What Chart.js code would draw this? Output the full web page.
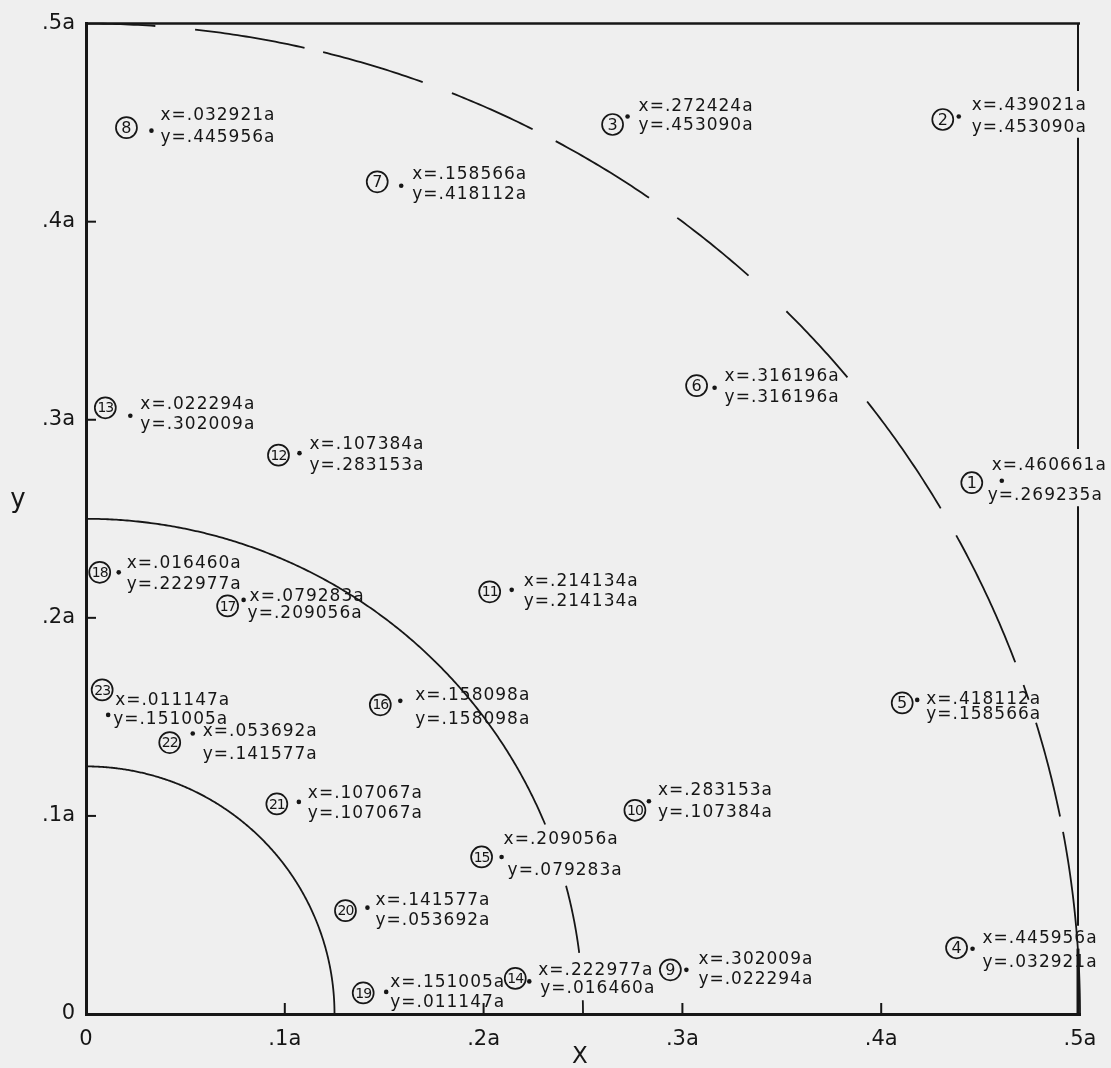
<!DOCTYPE html>
<html><head><meta charset="utf-8">
<script src="https://cdn.jsdelivr.net/npm/chart.js@4.4.0/dist/chart.umd.min.js"></script>
<style>html,body{margin:0;padding:0;background:#efefef;}canvas{display:block;}</style>
</head><body>
<canvas id="c" width="1111" height="1068"></canvas>
<script>
// ---- data ----
const pointIds = [1,2,3,4,5,6,7,8,9,10,11,12,13,14,15,16,17,18,19,20,21,22,23];
const xValues = [0.460661,0.439021,0.272424,0.445956,0.418112,0.316196,0.158566,0.032921,0.302009,0.283153,0.214134,0.107384,0.022294,0.222977,0.209056,0.158098,0.079283,0.016460,0.151005,0.141577,0.107067,0.053692,0.011147];
const yValues = [0.269235,0.453090,0.453090,0.032921,0.158566,0.316196,0.418112,0.445956,0.022294,0.107384,0.214134,0.283153,0.302009,0.016460,0.079283,0.158098,0.209056,0.222977,0.011147,0.053692,0.107067,0.141577,0.151005];
const tickValues = [0,0.1,0.2,0.3,0.4,0.5];
const tickLabels = ['0','.1a','.2a','.3a','.4a','.5a'];
const circleRadii = [0.125,0.25,0.5];
const axisTitles = {x:'X', y:'y'};

// ---- layout / style (pixels, degrees) ----
const ink = '#161616';
// arcs drawn as pieces between angles (deg), one list per radius
const arcPieces = [
  [[90,0]],
  [[90,22.5],[15,7.1],[1.6,0]],
  [[90,86],[83.7,77.3],[76.2,70.2],[68.4,63.3],[61.8,55.5],[53.5,48.2],[45.2,40.0],[38.2,30.7],[28.9,20.8],[19.4,18.5],[17.1,11.5],[10.6,0]]
];
// right frame pieces in y data units
const rightFrame = [[0,0.033,3],[0.0445,0.2563,2],[0.2853,0.4424,2],[0.466,0.5,2]];
// label offsets from the dot: circle dx,dy ; x-text dx,dy ; y-text dx,dy
const labelLayout = [
  [-30,2,-10,-15,-14,15],
  [-16,3,13,-11,13,11],
  [-15,8,11,-10,11,9],
  [-16,-1,10,-10,10,14],
  [-15,3,9,0,9,15],
  [-18,-2,10,-11,10,10],
  [-24,-4,11,-11,11,9],
  [-25,-3,9,-15,9,7],
  [-16,0,12,-10,12,10],
  [-14,9,9,-11,9,11],
  [-22,2,12,-8,12,12],
  [-21,2,10,-9,10,12],
  [-25,-8,10,-11,10,9],
  [-14,-3,9,-11,11,7],
  [-20,0,2,-17,6,14],
  [-20,4,15,-5,15,19],
  [-16,6,6,-3,4,14],
  [-19,0,8,-9,8,12],
  [-23,1,4,-9,4,11],
  [-22,3,8,-7,8,13],
  [-22,2,9,-8,9,12],
  [-23,9,10,-2,10,21],
  [-6,-25,7,-14,5,5]
];

const fmt = v => v.toFixed(6).replace(/^0/, '');

const framePlugin = {
  id: 'frame',
  beforeDatasetsDraw(chart) {
    const {ctx, chartArea: ca, scales: {x, y}} = chart;
    ctx.save();
    ctx.strokeStyle = ink;
    ctx.lineCap = 'butt';
    // top border
    ctx.lineWidth = 2.5;
    ctx.beginPath(); ctx.moveTo(ca.left, ca.top); ctx.lineTo(ca.right, ca.top); ctx.stroke();
    // right border pieces
    rightFrame.forEach(([a, b, w]) => {
      ctx.lineWidth = w;
      ctx.beginPath();
      ctx.moveTo(x.getPixelForValue(0.5) - 2, y.getPixelForValue(a));
      ctx.lineTo(x.getPixelForValue(0.5) - 2, y.getPixelForValue(b));
      ctx.stroke();
    });
    // inward tick marks
    ctx.lineWidth = 2;
    tickValues.slice(1, -1).forEach(v => {
      const px = x.getPixelForValue(v);
      ctx.beginPath(); ctx.moveTo(px, ca.bottom); ctx.lineTo(px, ca.bottom - 11); ctx.stroke();
      const py = y.getPixelForValue(v);
      ctx.beginPath(); ctx.moveTo(ca.left, py); ctx.lineTo(ca.left + 10, py); ctx.stroke();
    });
    // quarter circles
    ctx.lineWidth = 1.8;
    circleRadii.forEach((r, k) => {
      arcPieces[k].forEach(([a0, a1]) => {
        ctx.beginPath();
        const n = Math.max(4, Math.ceil(Math.abs(a0 - a1) * 4));
        for (let s = 0; s <= n; s++) {
          const t = (a0 + (a1 - a0) * s / n) * Math.PI / 180;
          const px = x.getPixelForValue(r * Math.cos(t));
          const py = y.getPixelForValue(r * Math.sin(t));
          if (s === 0) ctx.moveTo(px, py); else ctx.lineTo(px, py);
        }
        ctx.stroke();
      });
    });
    ctx.restore();
  },
  afterDraw(chart) {
    const {ctx, chartArea: ca} = chart;
    ctx.save();
    ctx.fillStyle = ink;
    ctx.textAlign = 'center';
    ctx.textBaseline = 'middle';
    ctx.font = '23px "DejaVu Sans"';
    ctx.fillText(axisTitles.x, (ca.left + ca.right) / 2 - 3, 1057);
    ctx.font = '26px "DejaVu Sans"';
    ctx.fillText(axisTitles.y, 18, 500);
    ctx.restore();
  }
};

const labelPlugin = {
  id: 'pointLabels',
  afterDatasetsDraw(chart) {
    const ctx = chart.ctx;
    const meta = chart.getDatasetMeta(0);
    ctx.save();
    ctx.fillStyle = ink; ctx.strokeStyle = ink;
    meta.data.forEach((pt, i) => {
      const L = labelLayout[i];
      const cx = pt.x + L[0], cy = pt.y + L[1];
      ctx.lineWidth = 1.7;
      ctx.beginPath(); ctx.arc(cx, cy, 10.5, 0, Math.PI * 2); ctx.stroke();
      const id = pointIds[i];
      ctx.textAlign = 'center'; ctx.textBaseline = 'middle';
      if ('letterSpacing' in ctx) ctx.letterSpacing = id > 9 ? '-1px' : '0px';
      ctx.font = (id > 9 ? '14px' : '16px') + ' "DejaVu Sans"';
      ctx.fillText(String(id), cx, cy + 1);
      ctx.textAlign = 'left';
      ctx.font = '17px "DejaVu Sans"';
      if ('letterSpacing' in ctx) ctx.letterSpacing = '1px';
      ctx.fillText('x=' + fmt(xValues[i]) + 'a', pt.x + L[2], pt.y + L[3]);
      ctx.fillText('y=' + fmt(yValues[i]) + 'a', pt.x + L[4], pt.y + L[5]);
    });
    ctx.restore();
  }
};

const tickOpts = (pad) => ({
  padding: pad, color: ink, autoSkip: false, maxRotation: 0,
  font: {family: 'DejaVu Sans', size: 21},
  callback: (v, i) => tickLabels[i]
});

new Chart(document.getElementById('c'), {
  type: 'scatter',
  data: {
    datasets: [{
      data: xValues.map((xv, i) => ({x: xv, y: yValues[i]})),
      pointRadius: 2.3, pointHoverRadius: 2.3,
      pointBackgroundColor: ink, pointBorderWidth: 0, showLine: false
    }]
  },
  options: {
    responsive: false, animation: false, events: [],
    layout: {padding: {top: 15, right: 31, left: 0, bottom: 0}},
    plugins: {legend: {display: false}, tooltip: {enabled: false}},
    scales: {
      x: {
        type: 'linear', min: 0, max: 0.5,
        afterBuildTicks: s => { s.ticks = tickValues.map(v => ({value: v})); },
        afterFit: s => { s.height = 54; },
        grid: {display: false, drawTicks: false},
        border: {display: true, width: 3, color: ink},
        ticks: tickOpts(13)
      },
      y: {
        type: 'linear', min: 0, max: 0.5,
        afterBuildTicks: s => { s.ticks = tickValues.map(v => ({value: v})); },
        afterFit: s => { s.width = 86; },
        grid: {display: false, drawTicks: false},
        border: {display: true, width: 3, color: ink},
        ticks: tickOpts(11)
      }
    }
  },
  plugins: [framePlugin, labelPlugin]
});
</script>
</body></html>
